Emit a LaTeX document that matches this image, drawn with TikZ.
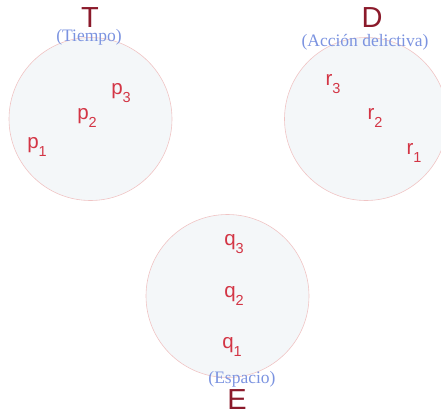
\documentclass[tikz,border=0pt]{standalone}
\usepackage{fontspec}
\setmainfont{Liberation Serif}
\setsansfont{Liberation Sans}
\definecolor{dred}{HTML}{8B1A2B}
\definecolor{lred}{HTML}{D33545}
\definecolor{lblue}{HTML}{7B93E0}
\definecolor{cfill}{HTML}{F4F7F9}
\definecolor{cline}{HTML}{F0C4C4}
\newcommand{\sbx}[1]{\raisebox{-0.36em}{\fontsize{14.5}{14.5}\selectfont #1}}
\begin{document}
\begin{tikzpicture}[x=1pt,y=-1pt,
  setc/.style={circle,draw=cline,fill=cfill,line width=0.6pt,minimum size=163pt,inner sep=0pt},
  big/.style={text=dred,font=\sffamily\fontsize{29}{29}\selectfont,inner sep=0pt,anchor=base},
  sub/.style={text=lblue,font=\rmfamily\fontsize{17.5}{18}\selectfont,inner sep=0pt,anchor=base},
  elem/.style={text=lred,font=\sffamily\fontsize{20.5}{21}\selectfont,inner sep=0pt}]
\useasboundingbox (0,0) rectangle (441,412);
\node[setc] (cT) at (90.5,119) {};
\node[setc] (cD) at (366,119) {};
\node[setc] (cE) at (227.5,296) {};
\node[big] (T) at (90,28) {T};
\node[sub] (tT) at (89,41.5) {(Tiempo)};
\node[big] (D) at (372,28) {D};
\node[sub] (tD) at (365,47) {(Acción delictiva)};
\node[big] (E) at (237,409.5) {E};
\node[sub] (tE) at (242,383) {(Espacio)};
\node[elem] (p3) at (121,93) {p\sbx{3}};
\node[elem] (p2) at (87,118) {p\sbx{2}};
\node[elem] (p1) at (37,147) {p\sbx{1}};
\node[elem] (r3) at (333,84) {r\sbx{3}};
\node[elem] (r2) at (375,118) {r\sbx{2}};
\node[elem] (r1) at (414,153) {r\sbx{1}};
\node[elem] (q3) at (234,244) {q\sbx{3}};
\node[elem] (q2) at (234,296) {q\sbx{2}};
\node[elem] (q1) at (232,347) {q\sbx{1}};
\end{tikzpicture}
\end{document}
